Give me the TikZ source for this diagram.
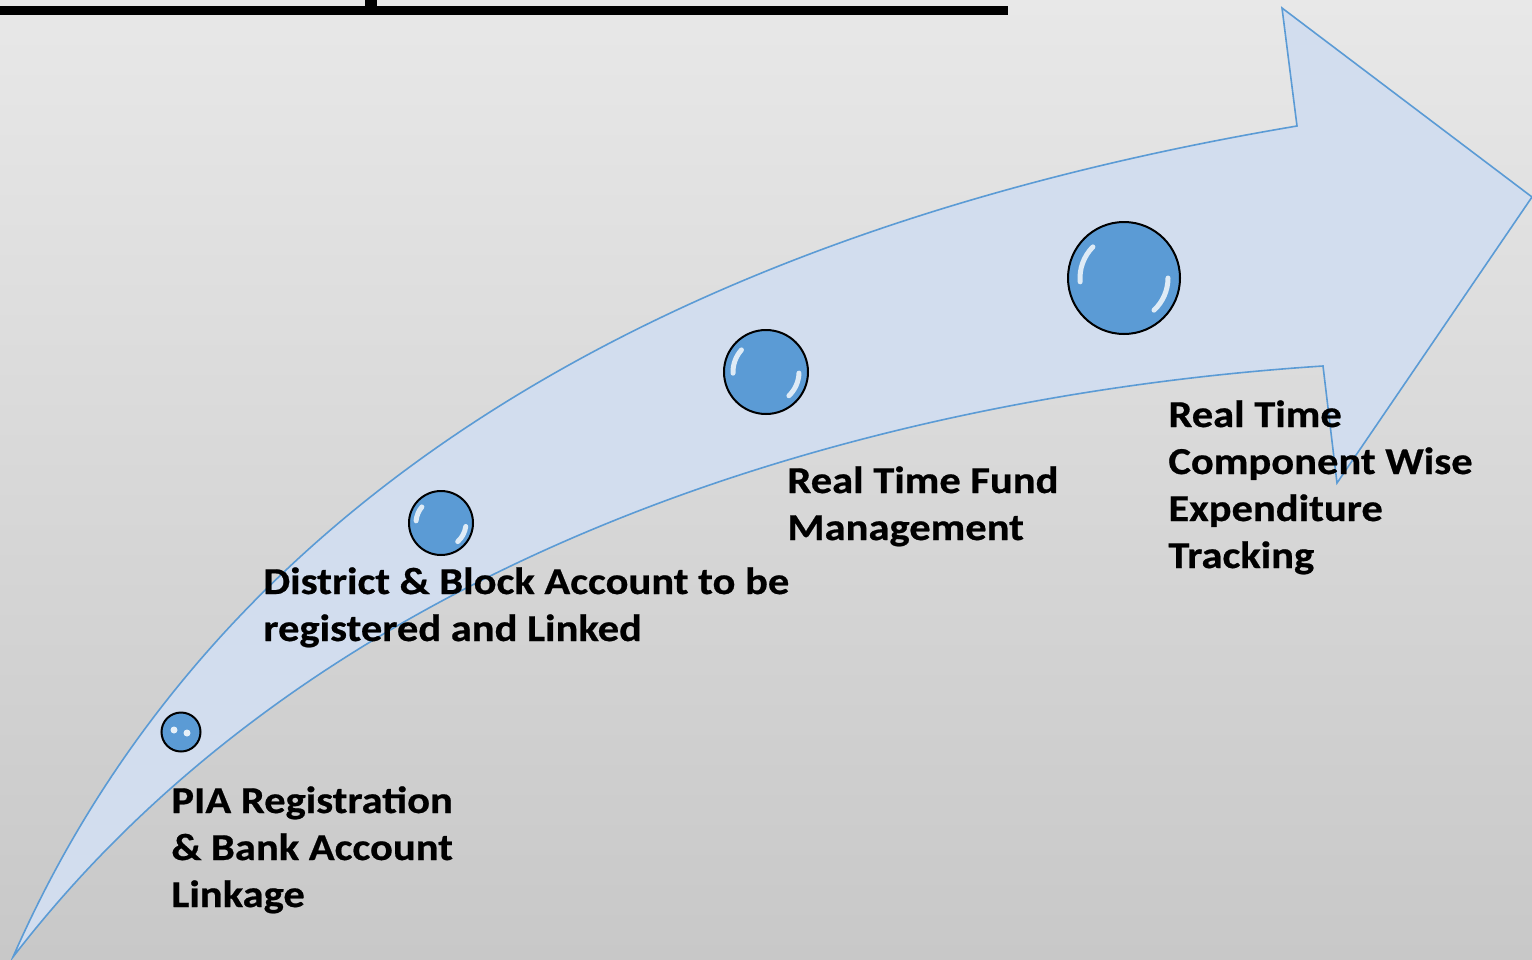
\documentclass[tikz,border=0pt]{standalone}
\usepackage{fontspec}
\setmainfont{Carlito}[FakeStretch=1.12, BoldFeatures={FakeBold=0.6}]
\usepackage{xcolor}
\usetikzlibrary{positioning,calc}
\definecolor{bgtop}{HTML}{E8E8E8}
\definecolor{bgbottom}{HTML}{C8C8C8}
\definecolor{arrowfill}{HTML}{D2DDEE}
\definecolor{arrowline}{HTML}{5B9BD5}
\definecolor{beadblue}{HTML}{5B9BD5}

\begin{document}
\begin{tikzpicture}[x=0.5pt, y=-0.5pt,
    bead/.style={fill=beadblue, draw=black, line width=1pt},
    shine/.style={white, opacity=0.8, line width=2.5pt, line cap=round},
    steplabel/.style={anchor=base west, inner sep=0pt, align=left,
      font=\fontsize{19}{23.5}\selectfont\bfseries}]

      \shade[top color=bgtop, bottom color=bgbottom] (0,0) rectangle (1532,959);
      \useasboundingbox (0,0) rectangle (1532,959);

      % heading rule
      \fill (0,6) rectangle (1008,15);
      \fill (365,0) rectangle (377,15);

      % the curved arrow
      \filldraw[fill=arrowfill, draw=arrowline, line width=0.8pt, line join=miter]
        (13,957) .. controls (200,530) and (620,240) .. (1297,126)
        -- (1282,8) -- (1532,197) -- (1337,483) -- (1323,366)
        .. controls (880,395) and (330,545) .. (13,957)
        -- cycle;

      % beads
      \coordinate (c1) at (181,732);
      \coordinate (c2) at (441,523);
      \coordinate (c3) at (766,372);
      \coordinate (c4) at (1124,278);

      \draw[bead] (c1) circle (19.5);
      \fill[white, opacity=0.85] ($(c1)+(-7,-2)$) circle (3.5);
      \fill[white, opacity=0.85] ($(c1)+(6,1)$) circle (3.5);

      \draw[bead] (c2) circle (32);
      \draw[shine] (c2) ++(185:25) arc (185:220:25);
      \draw[shine] (c2) ++(8:25) arc (8:48:25);

      \draw[bead] (c3) circle (42);
      \draw[shine] (c3) ++(178:33) arc (178:222:33);
      \draw[shine] (c3) ++(2:33) arc (2:46:33);

      \draw[bead] (c4) circle (56);
      \draw[shine] (c4) ++(175:44) arc (175:225:44);
      \draw[shine] (c4) ++(0:44) arc (0:47:44);

      % step labels (anchored on the last line)
      \node[steplabel] (pia) at (171,907) {PIA Registration\\\& Bank Account\\Linkage};
      \node[steplabel] (district) at (263,641) {District \& Block Account to be\\registered and Linked};
      \node[steplabel] (fund) at (787,540) {Real Time Fund\\Management};
      \node[steplabel] (tracking) at (1168,568) {Real Time\\Component Wise\\Expenditure\\Tracking};
    \end{tikzpicture}
\end{document}
